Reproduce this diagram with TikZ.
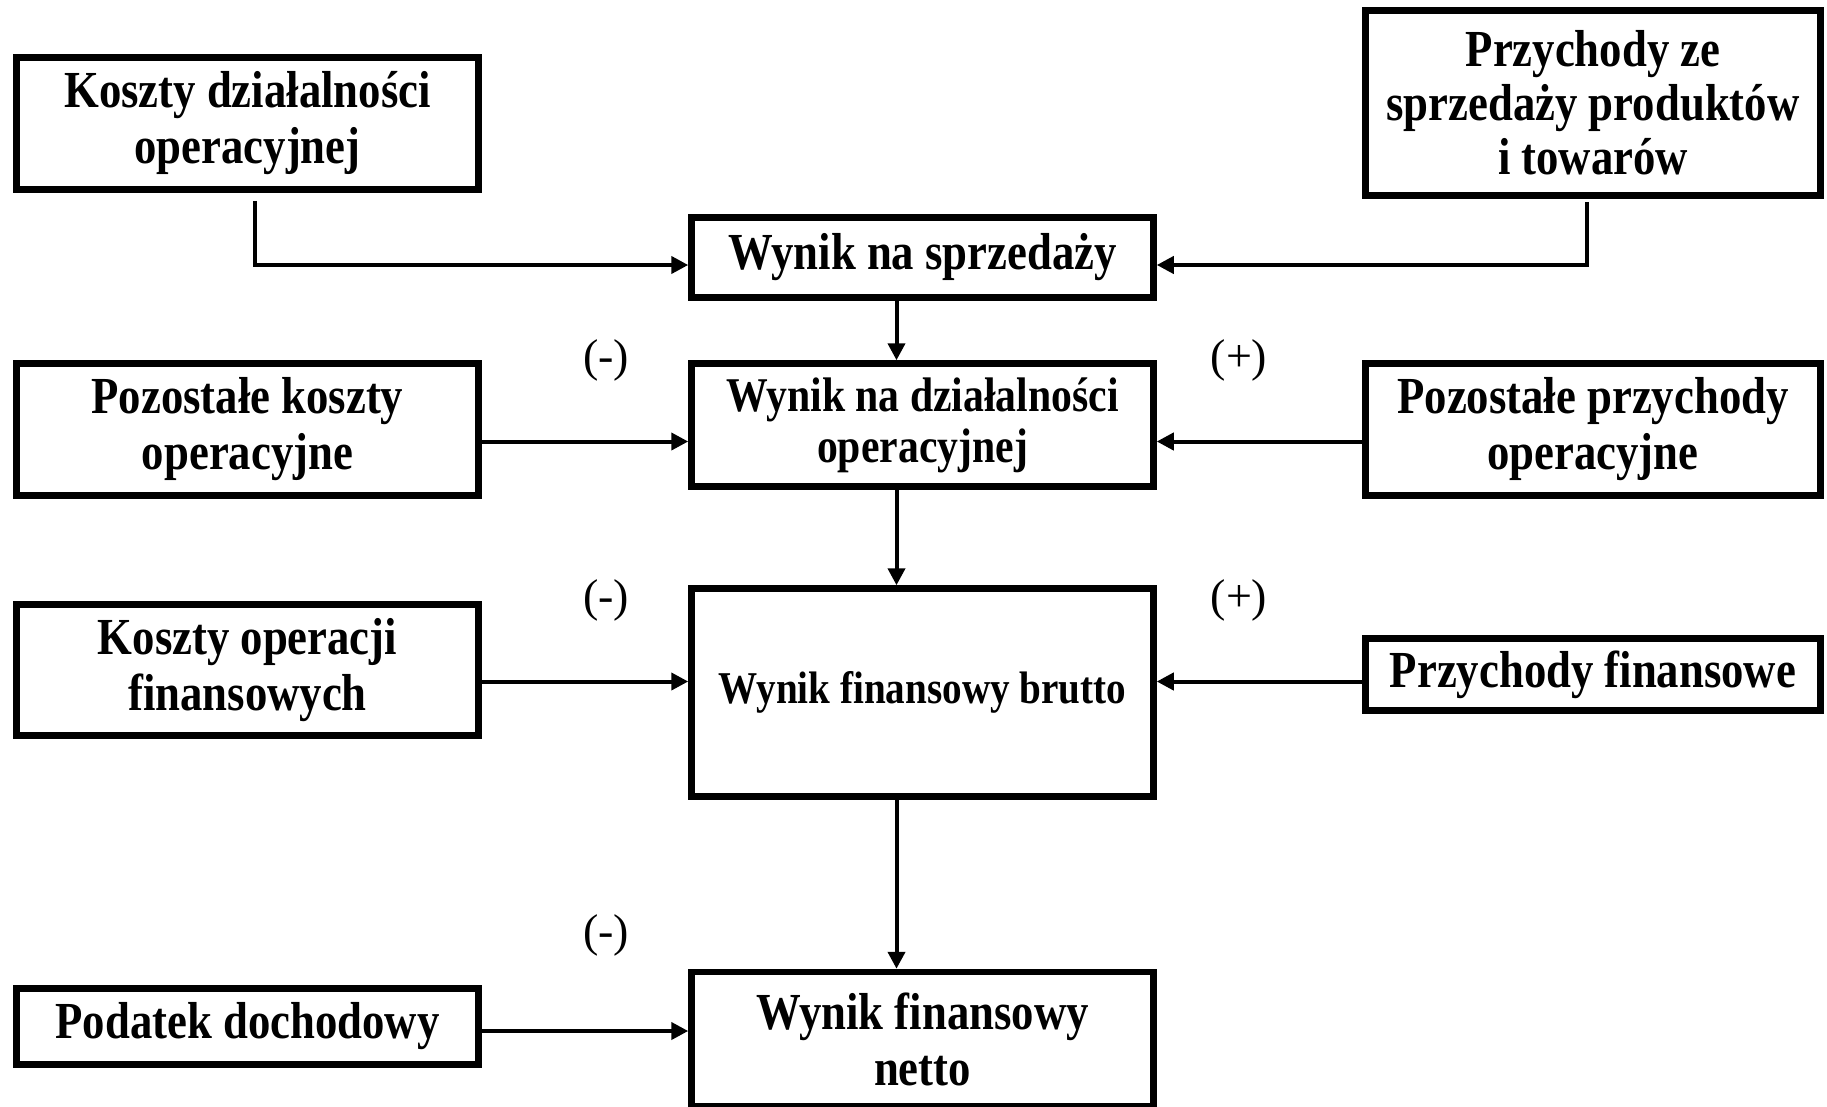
\documentclass[tikz,border=0pt]{standalone}
\usepackage{fontspec}
\setmainfont{Liberation Serif}[FakeStretch=0.86]
\newfontfamily\signfont{Liberation Serif}
\usetikzlibrary{arrows.meta}
\begin{document}
\begin{tikzpicture}[x=1pt,y=-1pt,
  box/.style={draw, line width=6.5pt, rectangle, inner sep=0pt, align=center,
    font=\fontsize{52}{56}\selectfont\bfseries},
  arr/.style={line width=4pt, -{Triangle[length=17pt,width=17pt]}},
  sign/.style={font=\fontsize{46}{50}\selectfont\signfont, inner sep=0pt}]
\useasboundingbox (0,0) rectangle (1827,1106);
\fill[white] (0,0) rectangle (1827,1106);
% left column
\node[box, minimum width=462, minimum height=132] (A) at (247.5,123.5) {Koszty działalności\\operacyjnej};
\node[box, minimum width=462, minimum height=132] (D) at (247.5,429.5) {Pozostałe koszty\\operacyjne};
\node[box, minimum width=462, minimum height=131] (G) at (247.5,670) {Koszty operacji\\finansowych};
\node[box, minimum width=462, minimum height=76] (J) at (247.5,1026.5) {Podatek dochodowy};
% center column
\node[box, minimum width=462, minimum height=80] (C) at (922.5,257.5) {Wynik na sprzedaży};
\node[box, minimum width=462, minimum height=123, font=\fontsize{48.5}{51}\selectfont\bfseries] (E) at (922.5,425) {Wynik na działalności\\operacyjnej};
\node[box, minimum width=462, minimum height=208, font=\fontsize{45.5}{50}\selectfont\bfseries] (H) at (922.5,692.5) {Wynik finansowy brutto};
\node[box, minimum width=462, minimum height=134, text depth=0pt] (K) at (922.5,1039) {Wynik finansowy\\netto};
% right column
\node[box, minimum width=455, minimum height=185, font=\fontsize{52}{54}\selectfont\bfseries] (B) at (1593,103) {Przychody ze\\sprzedaży produktów\\i towarów};
\node[box, minimum width=455, minimum height=132] (F) at (1593,429.5) {Pozostałe przychody\\operacyjne};
\node[box, minimum width=455, minimum height=72] (I) at (1593,674.5) {Przychody finansowe};
% signs
\node[sign] (s1) at (606,360) {(-)};
\node[sign] (s2) at (1239,360) {(+)};
\node[sign] (s3) at (606,600) {(-)};
\node[sign] (s4) at (1239,600) {(+)};
\node[sign] (s5) at (606,935) {(-)};
% connectors
\draw[arr] ([xshift=7.5pt,yshift=-8pt]A.south) |- ([yshift=-7.5pt]C.west);
\draw[arr] ([xshift=-6pt,yshift=-3pt]B.south) |- ([yshift=-7.5pt]C.east);
\draw[arr] ([xshift=-26pt]C.south) -- ([xshift=-26pt]E.north);
\draw[arr] ([xshift=-26pt]E.south) -- ([xshift=-26pt]H.north);
\draw[arr] ([xshift=-26pt]H.south) -- ([xshift=-26pt]K.north);
\draw[arr] ([yshift=-12pt]D.east) -- ([yshift=-12pt]D.east -| E.west);
\draw[arr] ([yshift=-12pt]F.west) -- ([yshift=-12pt]F.west -| E.east);
\draw[arr] ([yshift=-11.5pt]G.east) -- ([yshift=-11.5pt]G.east -| H.west);
\draw[arr] ([yshift=-7pt]I.west) -- ([yshift=-7pt]I.west -| H.east);
\draw[arr] ([yshift=-4.5pt]J.east) -- ([yshift=-4.5pt]J.east -| K.west);
\end{tikzpicture}
\end{document}
